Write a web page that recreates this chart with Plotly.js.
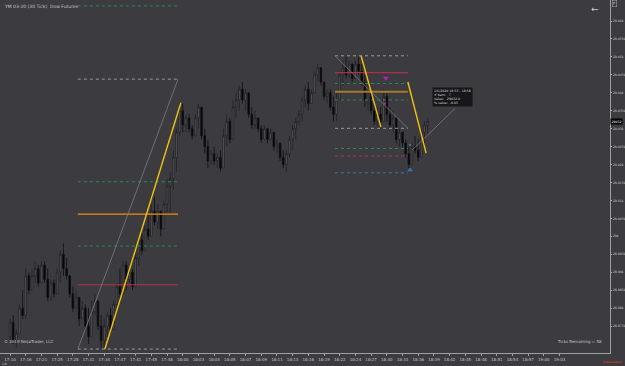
<!DOCTYPE html>
<html><head><meta charset="utf-8">
<script src="https://cdn.plot.ly/plotly-3.0.1.min.js"></script>
<style>html,body{margin:0;padding:0;background:#3b3b40;}#chart{width:625px;height:366px;}</style>
</head><body><div id="chart"></div>
<script>
// ---- data: 30-tick bars ----
const opens  = [28972,28976,28971,28973,28980,28978,28989,28985,28989,28991,28987,28992,28988,28983,28987,28984,28990,28995,28991,28989,28984,28980,28983,28977,28980,28975,28972,28979,28982,28975,28971,28975,28978,28974,28981,28986,28984,28992,28988,28990,28986,28994,28999,28996,29002,29000,29007,29004,29007,29002,29009,29014,29016,29022,29029,29035,29031,29033,29030,29028,29033,29036,29028,29025,29021,29023,29021,29022,29019,29028,29032,29027,29036,29038,29041,29038,29040,29034,29031,29033,29030,29027,29030,29027,29029,29025,29026,29022,29020,29023,29027,29030,29032,29034,29038,29041,29037,29040,29045,29047,29043,29039,29040,29036,29034,29038,29045,29047,29045,29048,29044,29048,29046,29043,29038,29040,29035,29032,29034,29032,29039,29034,29031,29033,29027,29029,29026,29023,29020,29025,29024,29022,29029,29031];
const highs  = [28977,28978,28974,28981,28985,28991,28990,28991,28993,28992,28993,28993,28991,28988,28988,28991,28996,28998,28994,28989,28986,28985,28983,28982,28981,28980,28982,28984,28982,28978,28977,28979,28980,28982,28987,28991,28993,28993,28991,28991,28995,29000,29001,29003,29006,29009,29011,29009,29007,29010,29016,29018,29024,29030,29037,29037,29034,29034,29031,29034,29037,29036,29030,29027,29024,29025,29023,29024,29030,29034,29033,29038,29040,29042,29043,29041,29040,29036,29035,29033,29031,29031,29030,29030,29029,29027,29026,29024,29024,29028,29031,29033,29035,29039,29042,29043,29041,29046,29048,29047,29043,29041,29041,29039,29040,29046,29049,29050,29049,29048,29049,29050,29048,29045,29042,29040,29037,29036,29036,29041,29040,29036,29035,29033,29030,29029,29027,29025,29026,29028,29027,29030,29032,29033];
const lows   = [28971,28970,28969,28973,28977,28977,28984,28985,28987,28986,28987,28987,28982,28982,28983,28984,28987,28989,28988,28983,28979,28980,28975,28977,28974,28970,28972,28978,28974,28969,28969,28972,28973,28974,28979,28982,28984,28985,28987,28985,28986,28992,28995,28996,28999,29000,29003,29002,29000,29002,29006,29006,29013,29018,29028,29029,29029,29029,29027,29028,29030,29027,29023,29019,29020,29020,29019,29018,29019,29025,29026,29027,29033,29035,29037,29035,29033,29030,29030,29029,29026,29027,29026,29027,29024,29023,29021,29019,29018,29022,29024,29027,29031,29032,29036,29035,29037,29040,29043,29042,29038,29037,29035,29032,29032,29038,29042,29044,29044,29043,29044,29045,29042,29036,29035,29034,29031,29030,29031,29032,29032,29030,29029,29026,29025,29025,29022,29019,29020,29023,29021,29022,29026,29028];
const closes = [28976,28971,28973,28980,28978,28989,28985,28989,28991,28987,28992,28988,28983,28987,28984,28990,28995,28991,28989,28984,28980,28983,28977,28980,28975,28972,28979,28982,28975,28971,28975,28978,28974,28981,28986,28984,28992,28988,28990,28986,28994,28999,28996,29002,29000,29007,29004,29007,29002,29009,29014,29016,29022,29029,29035,29031,29033,29030,29028,29033,29036,29028,29025,29021,29023,29021,29022,29019,29028,29032,29027,29036,29038,29041,29038,29040,29034,29031,29033,29030,29027,29030,29027,29029,29025,29026,29022,29020,29023,29027,29030,29032,29034,29038,29041,29037,29040,29045,29047,29043,29039,29040,29036,29034,29038,29045,29047,29045,29048,29044,29048,29046,29043,29038,29040,29035,29032,29034,29032,29039,29034,29031,29033,29027,29029,29026,29023,29020,29025,29024,29022,29029,29031,29032];
const firstBar = 3;
const timeLabels = ["17:10","17:16","17:21","17:25","17:28","17:31","17:34","17:37","17:41","17:45","17:48","18:00","18:03","18:04","18:05","18:07","18:09","18:11","18:13","18:16","18:19","18:22","18:24","18:27","18:30","18:33","18:36","18:39","18:42","18:45","18:48","18:51","18:54","18:57","19:00","19:03"];
const priceTicks = [29060,29055,29050,29045,29040,29035,29030,29025,29020,29015,29010,29005,29000,28995,28990,28985,28980,28975];
const lastPrice = 29032;
// drawing tools (bar index, price)
const leftFibLevels  = [29064.2,29043.8,29015.2,29006.2,28997.3,28986.5,28968.6];
const leftFibSpan    = [24.6,56.5];
const rightFibLevels = [29050.3,29045.6,29042.6,29040.3,29038.0,29030.1,29024.5,29022.4,29017.7];
const rightFibSpan   = [106.5,129.7];
const greyLines   = [[24.6,28968.6,56.5,29043.8],[106.5,29050.3,129.7,29030.1],[131,29024.0,144.7,29035.6]];
const yellowLines = [[33.2,28968.6,57.4,29037.2],[114.8,29050.3,121.1,29030.5],[129.7,29043.0,135.5,29023.2]];
const magentaMarks = {x:[122.7,122.4], y:[29044.1,29037.0]};
const blueMarks    = {x:[130.4,130.4], y:[29018.5,29025.5]};

const bars = opens.map((_, i) => i + firstBar);
const tickVals = timeLabels.map((_, k) => firstBar + 5 * k);

const leftStyle = [
 {c:'#2f8a4f',d:'dot',w:1},{c:'#9a9a9a',d:'dot',w:1},{c:'#2f8a4f',d:'dot',w:1},
 {c:'#f0900a',d:'solid',w:1.2},{c:'#2f8a4f',d:'dot',w:1},{c:'#b8324e',d:'solid',w:1},{c:'#9a9a9a',d:'dot',w:1}];
const rightStyle = [
 {c:'#9a9a9a',d:'dot',w:1},{c:'#a8304a',d:'solid',w:1.2},{c:'#2f8a4f',d:'dot',w:1},
 {c:'#a8782a',d:'solid',w:2},{c:'#2f8a4f',d:'dot',w:1},{c:'#9a9a9a',d:'dot',w:1},
 {c:'#2f8a4f',d:'dot',w:1},{c:'#b0306a',d:'dot',w:1},{c:'#3a78a8',d:'dot',w:1}];

const shapes = [];
leftFibLevels.forEach((p,i)=>shapes.push({type:'line',xref:'x',yref:'y',x0:leftFibSpan[0],x1:leftFibSpan[1],y0:p,y1:p,line:{color:leftStyle[i].c,dash:leftStyle[i].d,width:leftStyle[i].w}}));
rightFibLevels.forEach((p,i)=>shapes.push({type:'line',xref:'x',yref:'y',x0:rightFibSpan[0],x1:rightFibSpan[1],y0:p,y1:p,line:{color:rightStyle[i].c,dash:rightStyle[i].d,width:rightStyle[i].w}}));
greyLines.forEach(l=>shapes.push({type:'line',xref:'x',yref:'y',x0:l[0],y0:l[1],x1:l[2],y1:l[3],line:{color:'#7c7c80',width:0.8}}));
yellowLines.forEach(l=>shapes.push({type:'line',xref:'x',yref:'y',x0:l[0],y0:l[1],x1:l[2],y1:l[3],line:{color:'#f2c20c',width:1.4}}));

const trace = {
  type:'candlestick', x:bars, open:opens, high:highs, low:lows, close:closes,
  increasing:{line:{color:'#222226',width:0.8},fillcolor:'#626268'},
  decreasing:{line:{color:'#101012',width:0.8},fillcolor:'#050505'},
  whiskerwidth:0, hoverinfo:'none', showlegend:false
};
const magTrace = {type:'scatter',mode:'markers',x:magentaMarks.x,y:magentaMarks.y,
  marker:{symbol:['triangle-down','square'],size:[5,2],color:'#e81ee8',line:{width:0}},hoverinfo:'none',showlegend:false};
const blueTrace = {type:'scatter',mode:'markers',x:blueMarks.x,y:blueMarks.y,
  marker:{symbol:['triangle-up','square'],size:[5,2],color:'#3a90e8',line:{width:0}},hoverinfo:'none',showlegend:false};

const txt = '#c8c8c8';
const F = 'DejaVu Sans';
const layout = {
  width:625, height:366,
  margin:{l:0,r:15,t:0,b:13,pad:0},
  paper_bgcolor:'#3b3b40', plot_bgcolor:'#3b3b40',
  showlegend:false,
  xaxis:{range:[-0.2,194.07], tickvals:tickVals, ticktext:timeLabels, tickfont:{size:4,color:txt,family:F},
    showgrid:false, zeroline:false, showline:true, linecolor:'#a0a0a0', linewidth:1, ticks:'outside', ticklen:2, tickcolor:'#a0a0a0',
    rangeslider:{visible:false}, fixedrange:true},
  yaxis:{side:'right', range:[28967.5,29065.85], tickvals:priceTicks, tickfont:{size:3.2,color:txt,family:F},
    showgrid:false, zeroline:false, showline:true, linecolor:'#a0a0a0', linewidth:1, ticks:'outside', ticklen:1, tickcolor:'#a0a0a0', fixedrange:true},
  shapes:shapes,
  annotations:[
    {xref:'paper',yref:'paper',x:0.004,y:0.995,xanchor:'left',yanchor:'top',text:'YM 03-20 (30 Tick)  Dow Futures',showarrow:false,font:{size:4.5,color:txt,family:F}},
    {xref:'paper',yref:'paper',x:0.004,y:0.02,xanchor:'left',yanchor:'bottom',text:'© 2019 NinjaTrader, LLC',showarrow:false,font:{size:4,color:txt,family:F}},
    {xref:'paper',yref:'paper',x:0.99,y:0.02,xanchor:'right',yanchor:'bottom',text:'Ticks Remaining = 58',showarrow:false,font:{size:4,color:txt,family:F}},
    {xref:'paper',yref:'paper',x:0.985,y:0.995,xanchor:'right',yanchor:'top',text:'←',showarrow:false,font:{size:9,color:'#d0d0d0',family:F}},
    {xref:'paper',yref:'y',x:1.0,y:lastPrice,xanchor:'left',yanchor:'middle',text:String(lastPrice),showarrow:false,bgcolor:'#000000',font:{size:3.2,color:'#ffffff',family:F},borderpad:0.5},
    {xref:'x',yref:'y',x:137.5,y:29041.5,xanchor:'left',yanchor:'top',align:'left',
     text:'1/6/2020 18:53 - 18:58<br># bars:   7<br>Value:   29032.0<br>% value:  -0.05',
     showarrow:false,bgcolor:'rgba(20,20,22,0.9)',font:{size:3.2,color:'#d8d8d8',family:F},borderpad:1},
    {xref:'paper',yref:'paper',x:0.0,y:-0.032,xanchor:'left',yanchor:'middle',text:'1/6',showarrow:false,font:{size:3,color:txt,family:F}},
    {xref:'paper',yref:'paper',x:1.021,y:-0.028,xanchor:'right',yanchor:'middle',text:'<b>NINJATRADER</b>',showarrow:false,font:{size:2.4,color:'#d03a30',family:F}},
    {xref:'paper',yref:'paper',x:1.003,y:1.0,xanchor:'left',yanchor:'top',text:'F',showarrow:false,bordercolor:'#aaaaaa',borderwidth:0.5,borderpad:0.5,font:{size:4,color:txt,family:F}}
  ]
};
Plotly.newPlot('chart',[trace,magTrace,blueTrace],layout,{displayModeBar:false,staticPlot:true});
</script></body></html>
